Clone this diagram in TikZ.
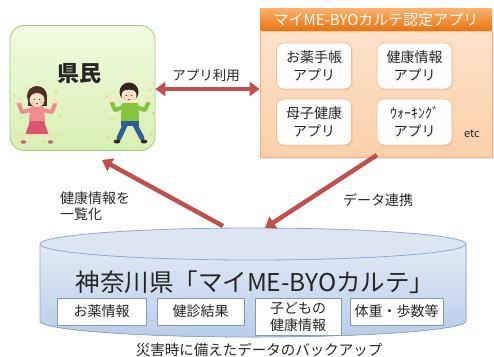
\documentclass[tikz,border=0pt]{standalone}
\usepackage{fontspec}
\setmainfont{Noto Sans CJK JP}
\usetikzlibrary{arrows.meta,shadows}

\definecolor{arrowred}{HTML}{C0504D}
\definecolor{greenfillA}{HTML}{F2FADF}
\definecolor{greenfillB}{HTML}{D8F0B4}
\definecolor{greenline}{HTML}{A8C48C}
\definecolor{orangeA}{HTML}{FBB36E}
\definecolor{orangeB}{HTML}{E8720F}
\definecolor{peachA}{HTML}{FDE2CA}
\definecolor{peachB}{HTML}{FBD0AA}
\definecolor{peachline}{HTML}{F4B183}
\definecolor{appline}{HTML}{F0C096}
\definecolor{blueA}{HTML}{E2EBF7}
\definecolor{blueB}{HTML}{B9CDE7}
\definecolor{bluetop}{HTML}{DCE6F3}
\definecolor{blueline}{HTML}{8FA9CF}
\definecolor{itemline}{HTML}{7F9CC6}
\definecolor{txt}{HTML}{262626}
\definecolor{skin}{HTML}{FCE1C8}
\definecolor{hairgirl}{HTML}{4E3024}
\definecolor{hairboy}{HTML}{33261E}
\definecolor{pinkshirt}{HTML}{EE8E8E}
\definecolor{skirt}{HTML}{DA5670}
\definecolor{greenshirt}{HTML}{86C440}
\definecolor{pants}{HTML}{2F5E93}
\definecolor{sparkle}{HTML}{E3D866}

\tikzset{
  bigarrow/.style={draw=arrowred, line width=4.5pt,
    -{Triangle[length=10pt,width=14pt]}},
  bigdarrow/.style={draw=arrowred, line width=4.5pt,
    {Triangle[length=10pt,width=14pt]}-{Triangle[length=10pt,width=14pt]}},
  note/.style={font=\fontsize{14}{15.5}\selectfont, text=txt, align=left, inner sep=0pt},
  appbox/.style={draw=appline, line width=0.8pt, rounded corners=7pt,
    top color=white, bottom color=white!92!peachA,
    minimum width=75pt, minimum height=46pt, inner sep=0pt, align=center,
    font=\fontsize{14}{18}\selectfont, text=txt,
    drop shadow={opacity=0.18, shadow xshift=1pt, shadow yshift=-1.2pt}},
  itembox/.style={draw=itemline, line width=0.7pt, fill=white,
    minimum height=27pt, inner sep=0pt, align=center,
    font=\fontsize{14}{17}\selectfont, text=txt,
    drop shadow={opacity=0.15, shadow xshift=1pt, shadow yshift=-1pt}},
  dot/.style={fill=sparkle}
}

\begin{document}
\begin{tikzpicture}[x=1pt,y=-1pt]
\useasboundingbox (0,0) rectangle (494,356);

% ---------- residents panel ----------
\node[draw=greenline, line width=0.8pt, rounded corners=14pt,
      top color=greenfillA, bottom color=greenfillB,
      minimum width=145pt, minimum height=125pt, inner sep=0pt]
      (kenmin) at (82.5,88) {};
\node[font=\fontsize{22}{22}\selectfont\bfseries, text=txt] (kenminlbl) at (79,74) {県民};

% sparkles
\foreach \p in {(15,96),(21,118),(56,92),(60,116),(16,134),(58,136),(44,141),
                (107,96),(112,119),(150,90),(153,113),(109,137),(151,134),(138,141)}
  \fill[dot] \p circle (1.1);

% girl
\draw[pinkshirt, line width=4pt, line cap=round, line join=round] (31,110) -- (22,112) -- (19,104);
\draw[pinkshirt, line width=4pt, line cap=round, line join=round] (43,110) -- (52,112) -- (55,104);
\fill[skin] (19,101) circle (2.6) (55,101) circle (2.6);
\draw[skin, line width=2.8pt, line cap=round] (33,130) -- (25,140);
\draw[skin, line width=2.8pt, line cap=round] (41,130) -- (49,140);
\fill[pinkshirt!80!black] (23.5,142) ellipse [x radius=3, y radius=1.8] (50.5,142) ellipse [x radius=3, y radius=1.8];
\fill[pinkshirt, rounded corners=2pt] (30,106) -- (44,106) -- (45,124) -- (29,124) -- cycle;
\fill[skirt] (30,121) -- (44,121) -- (48.5,134) -- (25.5,134) -- cycle;
\fill[hairgirl] (37,96) circle (10);
\fill[hairgirl] (27.5,96) rectangle (46.5,106);
\fill[skin] (37,100) ellipse [x radius=7.5, y radius=7];
\fill[hairgirl] (29.5,97) .. controls (31,89) and (43,89) .. (44.5,97) -- (44,94) .. controls (40,92) and (34,92) .. (30,94) -- cycle;
\fill[txt] (34.3,99.5) circle (0.7) (39.7,99.5) circle (0.7);
\fill[pinkshirt!70] (32.5,102.5) circle (1.3) (41.5,102.5) circle (1.3);
\draw[txt, line width=0.5pt] (35.8,103.3) .. controls (36.5,104.3) and (37.5,104.3) .. (38.2,103.3);

% boy
\draw[greenshirt, line width=4.2pt, line cap=round, line join=round] (124,107) -- (115,110) -- (112,103);
\draw[greenshirt, line width=4.2pt, line cap=round, line join=round] (136,107) -- (145,110) -- (148,103);
\fill[skin] (112,100) circle (2.6) (148,100) circle (2.6);
\draw[pants, line width=5pt, line cap=round] (127,121) -- (119,138);
\draw[pants, line width=5pt, line cap=round] (133,121) -- (142,138);
\fill[hairboy] (117,141.5) ellipse [x radius=3.4, y radius=2] (144,141.5) ellipse [x radius=3.4, y radius=2];
\fill[greenshirt, rounded corners=2pt] (121.5,103) -- (138.5,103) -- (139,124) -- (121,124) -- cycle;
\fill[pants] (121,121) rectangle (139,126);
\fill[hairboy] (129,92) circle (9.5);
\fill[skin] (129,95.5) ellipse [x radius=7.5, y radius=7];
\fill[hairboy] (121,94) .. controls (122,84) and (136,84) .. (137,94) -- (136,91.5) .. controls (132,89) and (126,89) .. (122,91.5) -- cycle;
\fill[txt] (126.3,95.5) circle (0.7) (131.7,95.5) circle (0.7);
\fill[pinkshirt!60] (124.5,98.5) circle (1.2) (133.5,98.5) circle (1.2);
\draw[txt, line width=0.5pt] (127.8,99.3) .. controls (128.5,100.3) and (129.5,100.3) .. (130.2,99.3);

% ---------- certified apps panel ----------
\node[draw=peachline, line width=0.6pt, top color=peachA, bottom color=peachB,
      minimum width=232pt, minimum height=127pt, inner sep=0pt,
      drop shadow={opacity=0.2, shadow xshift=1.5pt, shadow yshift=-1.5pt}]
      (apps) at (376,93.5) {};
\node[fill=orangeB, top color=orangeA, bottom color=orangeB, rounded corners=2pt,
      minimum width=232pt, minimum height=23pt, inner sep=0pt,
      font=\fontsize{15}{15}\selectfont, text=white]
      (appshead) at (376,19.5) {マイME-BYOカルテ認定アプリ};

\node[appbox] (kusuri)  at (314,66)  {お薬手帳\\アプリ};
\node[appbox] (kenko)   at (414.5,66)  {健康情報\\アプリ};
\node[appbox] (boshi)   at (314,122) {母子健康\\アプリ};
\node[appbox] (walking) at (414.5,122) {ｳｫｰｷﾝｸﾞ\\アプリ};
\node[font=\fontsize{11}{11}\selectfont, text=txt] (etc) at (472,134) {etc};

% ---------- database cylinder ----------
\fill[top color=blueA, bottom color=blueB]
  (40,244) -- (40,321) arc[start angle=180, end angle=0, x radius=213, y radius=16]
  -- (466,244) -- cycle;
\draw[blueline, line width=0.8pt]
  (40,244) -- (40,321) arc[start angle=180, end angle=0, x radius=213, y radius=16]
  -- (466,244);
\filldraw[fill=bluetop, draw=blueline, line width=0.8pt] (253,244) ellipse [x radius=213, y radius=16];
\coordinate (dbtop) at (253,228);

\node[font=\fontsize{24.5}{24.5}\selectfont, text=txt] (dbtitle) at (255,282) {神奈川県「マイME-BYOカルテ」};

\node[itembox, minimum width=89pt] (i1) at (101.5,311.5) {お薬情報};
\node[itembox, minimum width=87pt] (i2) at (200.5,311.5) {健診結果};
\node[itembox, minimum width=86pt, minimum height=37pt, font=\fontsize{14}{17}\selectfont] (i3) at (298,316.5) {子どもの\\健康情報};
\node[itembox, minimum width=93pt] (i4) at (396.5,311.5) {体重・歩数等};

\node[font=\fontsize{14.5}{14.5}\selectfont, text=txt] (backup) at (259,349.5) {災害時に備えたデータのバックアップ};

% ---------- connectors ----------
\coordinate (dbout) at (223,226);
\coordinate (dbin)  at (265,228);
\coordinate (kenminin) at (102,160);
\coordinate (appsout) at (377,155);
\draw[bigdarrow] (kenmin.east |- 0,89) -- (apps.west |- 0,89);
\draw[bigarrow] (dbout) -- (kenminin);
\draw[bigarrow] (appsout) -- (dbin);

\node[note, font=\fontsize{13.5}{13.5}\selectfont] (uselbl) at (206,75) {アプリ利用};
\node[note, anchor=west] (listlbl) at (60,206) {健康情報を\\一覧化};
\node[note] (linklbl) at (378,200) {データ連携};

\end{tikzpicture}
\end{document}
